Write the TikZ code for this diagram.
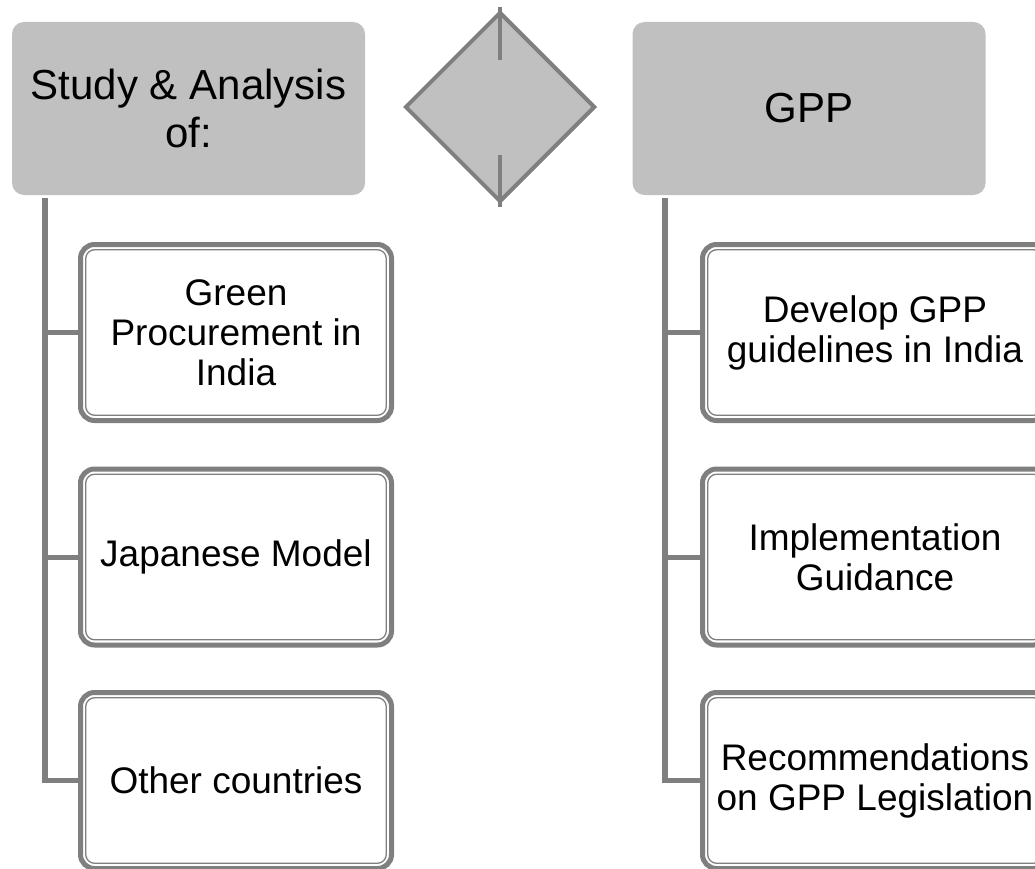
\documentclass[tikz,border=0pt]{standalone}
\usepackage{fontspec}
\setmainfont{Liberation Sans}
\usetikzlibrary{shapes.geometric}
\definecolor{boxgray}{HTML}{C0C0C0}
\definecolor{linegray}{HTML}{7F7F7F}

\begin{document}
\begin{tikzpicture}[x=1pt,y=-1pt,
	head/.style={fill=boxgray, rounded corners=12pt, minimum width=353pt, minimum height=173pt, inner sep=0pt, align=center, font=\fontsize{42}{48}\selectfont},
	item/.style={draw=linegray, line width=5pt, fill=white, rounded corners=14pt, minimum height=176pt, inner sep=0pt, align=center, font=\fontsize{37}{40}\selectfont,
		path picture={\draw[linegray, line width=1.3pt, rounded corners=9pt] ([shift={(5.2pt,-5.2pt)}]path picture bounding box.north west) rectangle ([shift={(-5.2pt,5.2pt)}]path picture bounding box.south east);}},
	trunk/.style={draw=linegray, line width=5.5pt},
	twig/.style={draw=linegray, line width=5pt},
	tick/.style={draw=linegray, line width=4pt, shorten <=-3pt}]
	\useasboundingbox (0,0) rectangle (1035,869);
	\clip (0,0) rectangle (1035,869);
	% headers and the diamond between them
	\node[head] (hdL) at (188.5,108.5) {Study \& Analysis\\of:};
	\node[head] (hdR) at (809,108.5) {GPP};
	\node[diamond, draw=linegray, fill=boxgray, line width=4pt, minimum width=190pt, minimum height=190pt, inner sep=0pt] (dia) at (500,107) {};
	\coordinate (diaT) at (500,60);
	\coordinate (diaB) at (500,155);
	\draw[tick] (dia.north) -- (diaT);
	\draw[tick] (dia.south) -- (diaB);
	% left column
	\node[item, minimum width=311pt] (lf1) at (236,332.5) {Green\\Procurement in\\India};
	\node[item, minimum width=311pt] (lf2) at (236,557) {Japanese Model};
	\node[item, minimum width=311pt] (lf3) at (236,780.5) {Other countries};
	% right column
	\node[item, minimum width=345pt] (rt1) at (875,332.5) {Develop GPP\\guidelines in India};
	\node[item, minimum width=345pt] (rt2) at (875,557) {Implementation\\Guidance};
	\node[item, minimum width=345pt] (rt3) at (875,780.5) {Recommendations\\on GPP Legislation};
	% trunks
	\coordinate (tL) at (45,198);
	\coordinate (tR) at (665,198);
	\draw[trunk] (tL) |- (lf3.west);
	\draw[twig] (tL |- lf1.west) -- (lf1.west);
	\draw[twig] (tL |- lf2.west) -- (lf2.west);
	\draw[trunk] (tR) |- (rt3.west);
	\draw[twig] (tR |- rt1.west) -- (rt1.west);
	\draw[twig] (tR |- rt2.west) -- (rt2.west);
\end{tikzpicture}
\end{document}
